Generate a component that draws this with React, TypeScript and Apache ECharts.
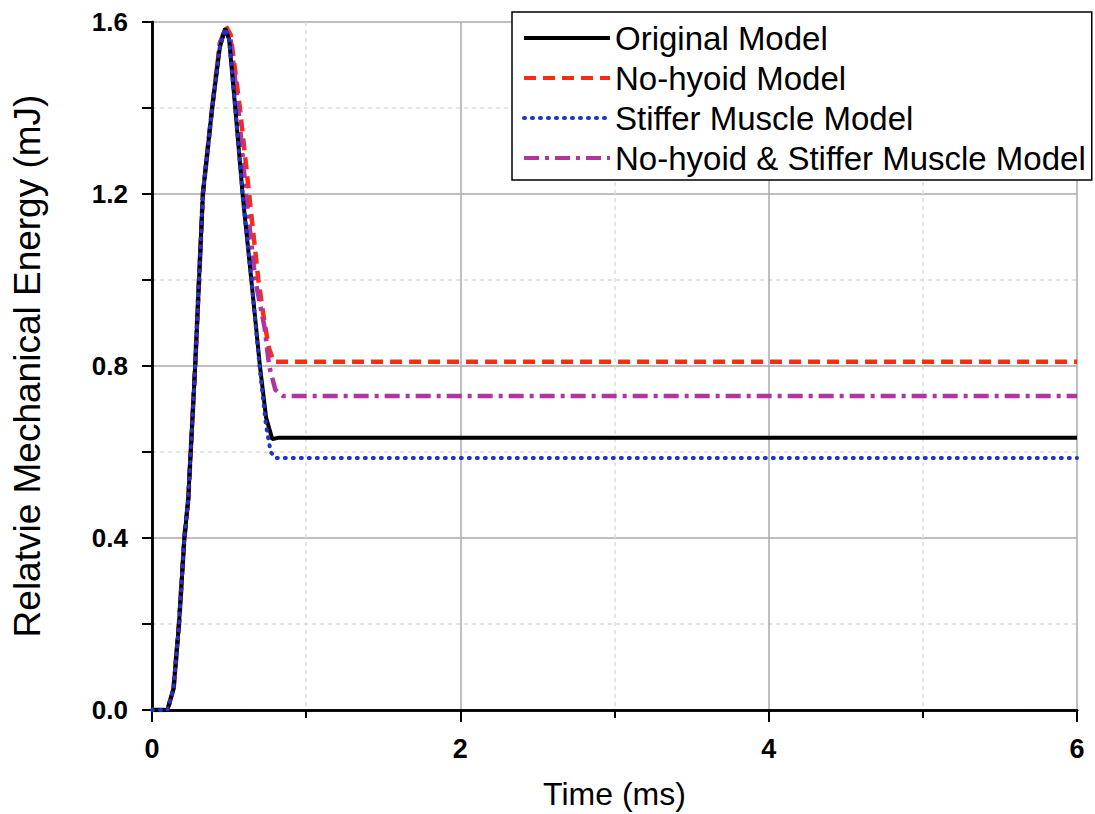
import React, { useEffect, useRef } from "react";
import * as echarts from "echarts";

const xTicks = [0, 2, 4, 6];
const seriesNames = [
  "Original Model",
  "No-hyoid Model",
  "Stiffer Muscle Model",
  "No-hyoid & Stiffer Muscle Model",
];

const originalT = [0, 0.1, 0.14, 0.175, 0.21, 0.235, 0.28, 0.33, 0.39, 0.44, 0.474, 0.5, 0.54, 0.59, 0.65, 0.7, 0.74, 0.78, 0.82, 3, 6];
const originalV = [0, 0, 0.05, 0.2, 0.4, 0.49, 0.8, 1.2, 1.4, 1.54, 1.585, 1.56, 1.4, 1.19, 0.98, 0.8, 0.68, 0.63, 0.633, 0.633, 0.633];

const noHyoidT = [0, 0.1, 0.14, 0.175, 0.21, 0.235, 0.28, 0.33, 0.39, 0.44, 0.48, 0.51, 0.57, 0.63, 0.69, 0.73, 0.76, 0.79, 6];
const noHyoidV = [0, 0, 0.05, 0.2, 0.4, 0.49, 0.8, 1.2, 1.4, 1.55, 1.59, 1.57, 1.4, 1.2, 1.0, 0.9, 0.84, 0.81, 0.81];

const stifferT = [0, 0.1, 0.14, 0.175, 0.21, 0.235, 0.28, 0.33, 0.39, 0.44, 0.474, 0.5, 0.54, 0.59, 0.65, 0.7, 0.74, 0.77, 0.8, 6];
const stifferV = [0, 0, 0.05, 0.2, 0.4, 0.49, 0.8, 1.2, 1.4, 1.54, 1.585, 1.56, 1.4, 1.19, 0.98, 0.79, 0.66, 0.6, 0.586, 0.586];

const bothT = [0, 0.1, 0.14, 0.175, 0.21, 0.235, 0.28, 0.33, 0.39, 0.44, 0.48, 0.51, 0.56, 0.61, 0.67, 0.73, 0.76, 0.8, 0.85, 6];
const bothV = [0, 0, 0.05, 0.2, 0.4, 0.49, 0.8, 1.2, 1.4, 1.55, 1.585, 1.56, 1.4, 1.2, 1.0, 0.89, 0.8, 0.745, 0.73, 0.73];

const pairs = (t: number[], v: number[]) => t.map((x, i) => [x, v[i]]);

export default function App() {
  const ref = useRef<HTMLDivElement>(null);
  useEffect(() => {
    if (!ref.current) return;
    const chart = echarts.init(ref.current, null, { renderer: "svg" });
    const font = "'Liberation Sans', Arial, sans-serif";
    const axisCommon = {
      axisLine: { show: true, lineStyle: { color: "#000", width: 2.5 } },
    };
    chart.setOption({
      animation: false,
      backgroundColor: "#fff",
      textStyle: { fontFamily: font },
      grid: { left: 152, right: 18, top: 22, bottom: 104, outerBoundsMode: "none", containLabel: false },
      legend: {
        orient: "vertical",
        left: 512,
        top: 12,
        data: seriesNames,
        itemWidth: 86,
        itemHeight: 14,
        itemGap: 6,
        padding: [9, 6, 5, 10],
        borderColor: "#000",
        borderWidth: 1.5,
        backgroundColor: "#fff",
        itemStyle: { opacity: 0 },
        lineStyle: { width: 4 },
        textStyle: { fontSize: 33, lineHeight: 34, color: "#000", fontFamily: font },
        z: 10,
      },
      xAxis: [
        {
          type: "value",
          min: 0,
          max: 6,
          interval: 2,
          name: "Time (ms)",
          nameLocation: "middle",
          nameGap: 68,
          nameTextStyle: { fontSize: 32, color: "#000", fontFamily: font },
          ...axisCommon,
          axisTick: { show: true, length: 12, lineStyle: { color: "#000", width: 2 } },
          minorTick: { show: true, splitNumber: 2, length: 8, lineStyle: { color: "#000", width: 2 } },
          axisLabel: { fontSize: 27, fontWeight: "bold", color: "#000", margin: 25, fontFamily: font },
          splitLine: { show: true, lineStyle: { color: "#aaa", width: 1.5 } },
          minorSplitLine: { show: true, lineStyle: { color: "#ddd", width: 1.5, type: [4, 4] } },
        },
        {
          type: "value",
          position: "top",
          min: 0,
          max: 6,
          interval: 2,
          ...axisCommon,
          axisTick: { show: true, inside: true, length: 10, lineStyle: { color: "#000", width: 2 } },
          minorTick: { show: true, splitNumber: 2, length: 7, lineStyle: { color: "#000", width: 2 } },
          axisLabel: { show: false },
          splitLine: { show: false },
        },
      ],
      yAxis: [
        {
          type: "value",
          min: 0,
          max: 1.6,
          interval: 0.4,
          name: "Relatvie Mechanical Energy (mJ)",
          nameLocation: "middle",
          nameRotate: 90,
          nameGap: 106,
          nameTextStyle: { fontSize: 37, color: "#000", fontFamily: font },
          ...axisCommon,
          axisTick: { show: true, length: 10, lineStyle: { color: "#000", width: 2 } },
          minorTick: { show: true, splitNumber: 2, length: 10, lineStyle: { color: "#000", width: 2 } },
          axisLabel: {
            fontSize: 26,
            fontWeight: "bold",
            color: "#000",
            margin: 24,
            fontFamily: font,
            formatter: (v: number) => v.toFixed(1),
          },
          splitLine: { show: true, lineStyle: { color: "#aaa", width: 1.5 } },
          minorSplitLine: { show: true, lineStyle: { color: "#ddd", width: 1.5, type: [4, 4] } },
        },
        {
          type: "value",
          position: "right",
          min: 0,
          max: 1.6,
          interval: 0.4,
          ...axisCommon,
          axisTick: { show: true, inside: true, length: 10, lineStyle: { color: "#000", width: 2 } },
          minorTick: { show: true, splitNumber: 2, length: 7, lineStyle: { color: "#000", width: 2 } },
          axisLabel: { show: false },
          splitLine: { show: false },
        },
      ],
      series: [
        {
          name: seriesNames[1],
          type: "line",
          data: pairs(noHyoidT, noHyoidV),
          symbol: "none",
          z: 3,
          lineStyle: { color: "#ff2a12", width: 4.5, type: [12, 7] },
          itemStyle: { color: "#ff2a12" },
        },
        {
          name: seriesNames[3],
          type: "line",
          data: pairs(bothT, bothV),
          symbol: "none",
          z: 4,
          lineStyle: { color: "#b0359f", width: 4.5, type: [15, 6, 4, 6] },
          itemStyle: { color: "#b0359f" },
        },
        {
          name: seriesNames[0],
          type: "line",
          data: pairs(originalT, originalV),
          symbol: "none",
          z: 5,
          lineStyle: { color: "#000", width: 4 },
          itemStyle: { color: "#000" },
        },
        {
          name: seriesNames[2],
          type: "line",
          data: pairs(stifferT, stifferV),
          symbol: "none",
          z: 6,
          lineStyle: { color: "#1f35c8", width: 4, type: [1, 7], cap: "round" },
          itemStyle: { color: "#1f35c8" },
        },
      ],
    });
    return () => chart.dispose();
  }, []);
  return (
    <div
      ref={ref}
      style={{ position: "absolute", left: 0, top: 0, width: 1095, height: 814 }}
    />
  );
}
